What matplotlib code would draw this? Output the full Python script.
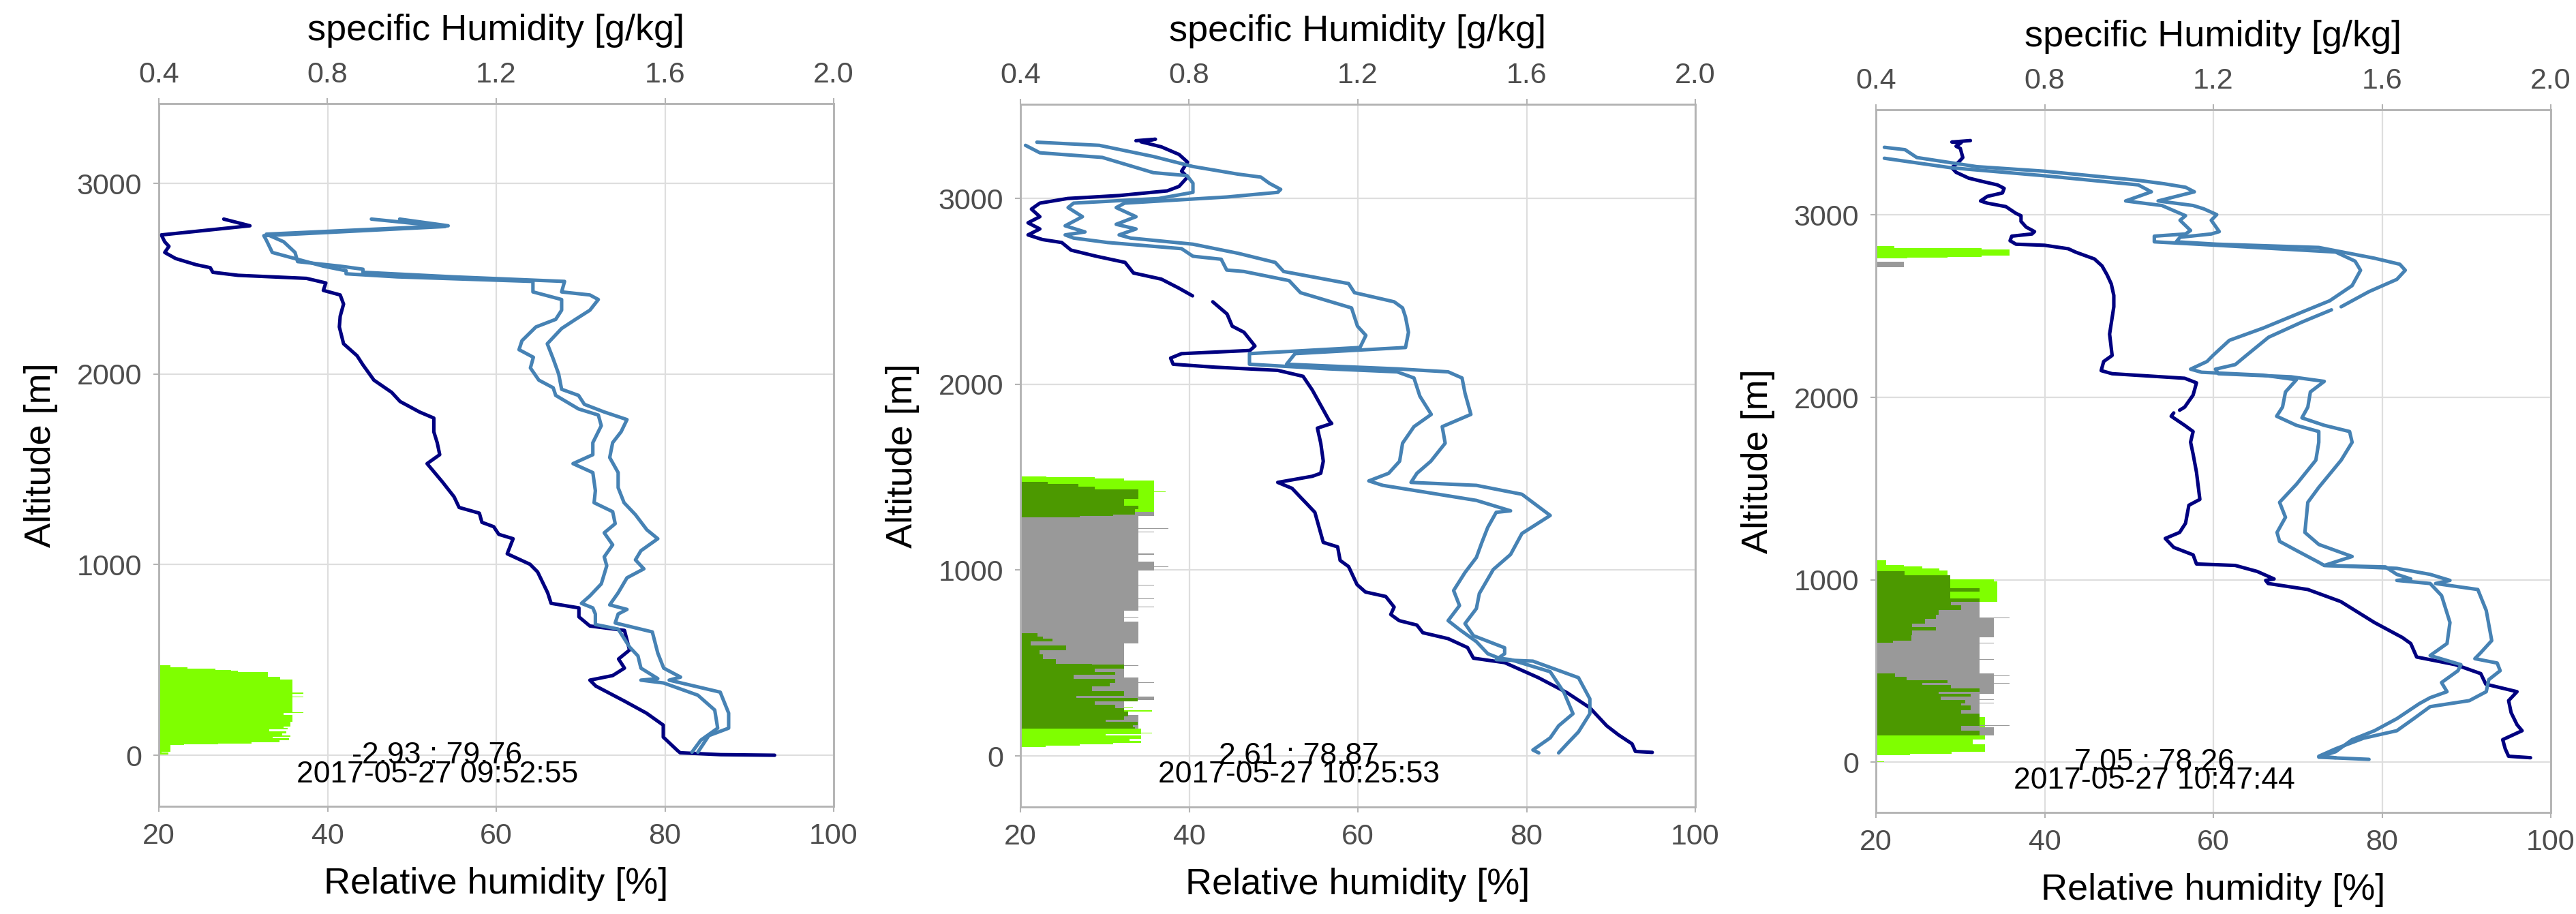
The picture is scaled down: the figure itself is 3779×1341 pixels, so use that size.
import numpy as np
import matplotlib
matplotlib.use("Agg")
import matplotlib.pyplot as plt
from matplotlib.ticker import FormatStrFormatter

plt.rcParams['font.family'] = ['Liberation Sans', 'DejaVu Sans']

nan = np.nan

# ==========================================
# Colours
# ==========================================
NAVY = "#000080"
STEEL = "#4682B4"
LIME = "#7FFF00"
DKGREEN = "#4C9900"
GREY = "#999999"

# ==========================================
# Panel 1  (2017-05-27 09:52:55)
# ==========================================
p1_rh_alt = [2813, 2778, 2730, 2694, 2670, 2638, 2606, 2574, 2558, 2534, 2518, 2502, 2478, 2439, 2415,
             2367, 2303, 2247, 2159, 2096, 2048, 1968, 1904, 1856, 1801, 1769, 1697, 1640, 1577, 1530,
             1435, 1356, 1300, 1270, 1222, 1199, 1159, 1136, 1057, 1002, 962, 852, 797, 773, 726, 678,
             655, 552, 505, 457, 418, 394, 363, 284, 221, 158, 95, 24, 13, 3, 0]
p1_rh = [27.7, 30.8, 20.3, 20.7, 21.2, 20.7, 22.0, 24.4, 26.1, 26.4, 29.4, 37.5, 39.8, 39.5, 41.5,
         41.9, 41.5, 41.4, 41.9, 43.5, 44.2, 45.5, 47.6, 48.6, 50.9, 52.6, 52.6, 53.0, 53.3, 51.8,
         53.6, 55.0, 55.6, 58.0, 58.3, 59.7, 60.3, 62.0, 61.3, 64.0, 64.9, 66.1, 66.5, 69.8, 69.8, 71.1,
         75.2, 75.8, 74.5, 75.2, 73.8, 71.1, 71.8, 75.2, 77.8, 79.8, 79.8, 81.5, 81.8, 86.6, 93.0]

p1_qa_alt = [2813, 2774, 2726, 2702, 2638, 2614, 2566, 2542, 2526, 2510, 2486, 2431, 2391, 2335, 2287,
             2247, 2175, 2128, 2088, 2032, 1968, 1928, 1888, 1817, 1785, 1729, 1640, 1577, 1530, 1483,
             1388, 1325, 1278, 1215, 1167, 1104, 1041, 994, 899, 836, 797, 773, 741, 686, 662, 568,
             521, 457, 402, 394, 379, 315, 237, 142, 79, 16]
p1_qa = [0.904, 1.079, 0.649, 0.655, 0.669, 0.709, 0.790, 0.844, 0.844, 0.965, 1.287, 1.287, 1.355, 1.355, 1.341,
         1.294, 1.261, 1.254, 1.288, 1.281, 1.301, 1.335, 1.341, 1.395, 1.442, 1.449, 1.429, 1.429, 1.382, 1.429,
         1.435, 1.432, 1.476, 1.482, 1.456, 1.476, 1.456, 1.462, 1.449, 1.422, 1.402, 1.429, 1.435, 1.435, 1.489, 1.516,
         1.536, 1.543, 1.583, 1.543, 1.597, 1.678, 1.718, 1.725, 1.685, 1.664]

p1_qb_alt = [2813, 2778, 2734, 2694, 2638, 2590, 2566, 2550, 2534, 2510, 2486, 2431, 2415, 2391, 2335,
             2287, 2239, 2159, 2080, 2000, 1920, 1888, 1841, 1801, 1761, 1697, 1640, 1562, 1483, 1404,
             1325, 1262, 1183, 1136, 1073, 1025, 978, 931, 852, 789, 765, 741, 694, 647, 536, 457,
             410, 394, 331, 221, 142, 103, 16]
p1_qb = [0.971, 1.086, 0.655, 0.696, 0.723, 0.729, 0.830, 0.884, 0.884, 1.099, 1.362, 1.355, 1.422, 1.442, 1.422,
         1.388, 1.355, 1.321, 1.335, 1.348, 1.355, 1.395, 1.409, 1.456, 1.510, 1.496, 1.476, 1.469, 1.489, 1.489,
         1.503, 1.530, 1.557, 1.583, 1.543, 1.530, 1.550, 1.510, 1.489, 1.469, 1.510, 1.489, 1.482, 1.570, 1.583, 1.597,
         1.637, 1.610, 1.731, 1.751, 1.751, 1.704, 1.678]

p1_lime_alt = [5, 13, 19, 55, 58, 62, 67, 73, 80, 90, 97, 105, 115, 125, 135, 144, 150, 174, 210, 222,
               226, 305, 309, 323, 329, 396, 413, 436, 442, 448, 456, 460, 472]
p1_lime_len = [21.1, 20.3, 21.35, 23.0, 27.0, 31.0, 34.3, 34.3, 35.4, 33.5, 35.6, 34.6, 35.1, 33.1, 35.3,
               34.8, 35.6, 35.8, 34.8, 37.1, 35.8, 37.1, 35.8, 37.1, 35.8, 34.4, 32.9, 29.4, 28.6, 26.7,
               23.4, 21.35, 21.35]

# ==========================================
# Panel 2  (2017-05-27 10:25:53)
# ==========================================
p2_rh_alt = [3311, 3319, 3305, 3278, 3237, 3196, 3147, 3115, 3065, 3041, 3016, 3000, 2975, 2943, 2902,
             2869, 2836, 2804, 2779, 2763, 2722, 2689, 2656, 2599, 2566, 2517, 2476, nan, 2444, 2378,
             2313, 2280, 2206, 2182, 2165, 2141, 2108, 2092, 2075, 2043, 1969, 1887, 1805, 1789, 1764,
             1683, 1586, 1521, 1505, 1472, 1440, 1392, 1359, 1311, 1149, 1125, 1052, 1019, 922, 882,
             858, 801, 761, 728, 704, 663, 631, 583, 526, 502, 421, 340, 259, 162, 113, 65, 24, 19]
p2_rh = [33.7, 36.0, 34.3, 36.7, 38.8, 39.8, 39.1, 39.8, 38.8, 37.4, 31.7, 25.6, 22.3, 21.3, 22.3,
         20.9, 22.3, 20.9, 22.6, 24.9, 26.0, 29.0, 32.4, 33.4, 36.7, 38.8, 40.4, nan, 42.8, 44.5,
         45.1, 46.5, 47.8, 47.2, 39.1, 37.8, 38.1, 43.1, 50.5, 53.5, 54.6, 55.6, 56.6, 56.9, 55.2,
         55.6, 55.9, 55.6, 54.6, 50.5, 52.2, 53.2, 53.9, 54.9, 55.9, 57.6, 57.9, 58.9, 59.9, 60.9,
         63.3, 64.3, 63.9, 64.9, 67.0, 67.7, 70.7, 73.0, 73.7, 77.4, 81.4, 84.8, 87.5, 89.5, 90.9, 92.5, 92.9, 94.9]

p2_qa_alt = [3286, 3246, 3221, 3139, 3123, 3082, 3033, 3000, 2975, 2951, 2902, 2853, 2820, 2804, 2787,
             2763, 2730, 2689, 2673, 2615, 2607, 2558, 2493, 2411, 2313, 2263, 2198, 2165, 2108, 2083,
             2067, 2034, 1936, 1838, 1772, 1683, 1586, 1521, 1480, 1456, 1424, 1375, 1319, 1311, 1230,
             1149, 1068, 987, 890, 809, 728, 680, 615, 550, 526, 518, 453, 340, 227, 162, 97, 32, 16]
p2_qa = [0.412, 0.446, 0.594, 0.715, 0.795, 0.809, 0.809, 0.728, 0.526, 0.513, 0.547, 0.506, 0.553, 0.506, 0.526,
         0.607, 0.782, 0.809, 0.876, 0.889, 0.930, 1.037, 1.064, 1.185, 1.199, 1.219, 1.205, 0.943, 0.943, 1.131,
         1.293, 1.333, 1.347, 1.374, 1.333, 1.306, 1.299, 1.273, 1.226, 1.259, 1.347, 1.481, 1.562, 1.528, 1.508,
         1.494, 1.481, 1.454, 1.427, 1.441, 1.414, 1.441, 1.481, 1.508, 1.535, 1.562, 1.656, 1.689, 1.710, 1.676,
         1.656, 1.615, 1.629]

p2_qb_alt = [3303, 3286, 3226, 3172, 3131, 3115, 3082, 3049, 3033, 3008, 2975, 2951, 2902, 2861, 2836,
             2804, 2787, 2754, 2705, 2656, 2607, 2542, 2493, 2444, 2411, 2362, 2280, 2198, 2165, 2108,
             2083, 2067, 2034, 1952, 1838, 1772, 1683, 1586, 1521, 1472, 1456, 1408, 1294, 1197, 1084,
             1003, 874, 793, 712, 647, 582, 550, 518, 510, 421, 307, 227, 129, 65, 16]
p2_qb = [0.439, 0.587, 0.715, 0.809, 0.916, 0.970, 0.990, 1.017, 1.010, 0.889, 0.647, 0.627, 0.674, 0.627, 0.674,
         0.634, 0.661, 0.809, 0.916, 1.004, 1.024, 1.178, 1.192, 1.286, 1.306, 1.313, 1.320, 1.313, 1.051, 1.031,
         1.293, 1.414, 1.447, 1.454, 1.468, 1.400, 1.407, 1.373, 1.340, 1.326, 1.481, 1.589, 1.656, 1.589, 1.562,
         1.521, 1.488, 1.481, 1.454, 1.474, 1.548, 1.548, 1.528, 1.615, 1.723, 1.750, 1.750, 1.723, 1.696, 1.676]

p2_lime_alt = [49, 55, 62, 70, 80, 92, 110, 116, 122, 126, 147, 239, 245, 257, 262, 1291, 1418, 1423,
               1481, 1493, 1499, 1505]
p2_lime_len = [23.0, 27.0, 31.0, 34.3, 32.9, 34.3, 30.1, 34.3, 35.6, 34.3, 32.0, 35.6, 32.0, 33.3, 32.0,
               35.8, 37.2, 35.8, 32.3, 28.8, 23.1, 23.1]

p2_grey_alt = [147, 220, 300, 318, 393, 397, 422, 486, 489, 516, 519, 606, 722, 745, 749, 783, 800, 804,
               845, 849, 918, 922, 998, 1016, 1020, 1047, 1084, 1088, 1204, 1208, 1220, 1224, 1291, 1313]
p2_grey_len = [34.0, 32.3, 35.8, 34.0, 35.8, 34.0, 32.3, 34.0, 32.3, 34.0, 32.3, 34.0, 32.3, 34.0, 32.3,
               34.0, 35.8, 34.0, 35.8, 34.0, 35.8, 34.0, 35.8, 37.5, 35.8, 34.0, 35.8, 34.0, 35.8, 34.0,
               37.5, 34.0, 35.8, 35.8]

p2_green_alt = [147, 153, 165, 184, 196, 214, 239, 257, 275, 294, 312, 324, 349, 373, 392, 416, 435, 453,
                471, 490, 496, 520, 545, 569, 594, 618, 630, 643, 661, 1285, 1290, 1300, 1328, 1346, 1383,
                1436, 1450, 1463, 1475]
p2_green_len = [33.6, 33.3, 33.9, 30.1, 32.3, 32.8, 32.3, 31.2, 28.8, 33.9, 26.6, 32.3, 28.5, 30.6, 31.2,
                26.3, 31.2, 28.8, 32.3, 28.5, 24.2, 22.7, 22.3, 25.4, 21.2, 23.8, 22.7, 22.0, 20.0, 27.0,
                31.0, 33.6, 34.0, 32.3, 34.0, 28.8, 26.9, 23.2, 20.0]

# ==========================================
# Panel 3  (2017-05-27 10:47:44)
# ==========================================
p3_rh_alt = [3408, 3400, 3396, 3377, 3365, 3315, 3290, 3259, 3234, 3202, 3184, 3165, 3146, 3121, 3102,
             3077, 3065, 3046, 3009, 2996, 2965, 2934, 2909, 2896, 2884, 2859, 2840, 2834, 2815, 2796,
             2759, 2721, 2672, 2622, 2559, 2497, 2347, 2230, 2197, 2147, 2130, 2105, 2080, 2013, 1947,
             1930, nan, 1915, 1897, 1847, 1813, 1755, 1689, 1590, 1441, 1409, 1310, 1260, 1227, 1178,
             1137, 1087, 1079, 1046, 1005, 997, 980, 947, 881, 766, 684, 651, 577, 535, 486, 428, 387,
             338, 272, 206, 173, 124, 74, 33, 25]
p3_rh = [31.2, 29.0, 30.1, 29.5, 30.0, 30.3, 29.8, 29.0, 29.5, 31.0, 32.6, 34.4, 35.2, 35.0, 33.2,
         32.4, 33.2, 35.4, 36.6, 37.2, 37.2, 37.8, 38.8, 38.5, 36.1, 35.9, 36.6, 40.0, 42.8, 43.7,
         45.9, 46.8, 47.4, 47.9, 48.2, 48.2, 47.7, 48.0, 47.0, 46.7, 48.0, 56.6, 58.0, 57.6, 56.6,
         56.0, nan, 55.3, 55.0, 56.6, 57.6, 57.3, 57.6, 58.0, 58.4, 57.1, 56.7, 56.0, 54.3, 55.3,
         57.6, 58.0, 62.6, 65.2, 67.2, 66.2, 66.5, 71.2, 75.1, 79.1, 82.4, 83.4, 84.1, 88.7, 91.7, 92.3,
         96.0, 95.0, 95.3, 96.0, 96.6, 94.3, 94.6, 95.0, 97.6]

p3_qa_alt = [3311, 3259, 3215, 3165, 3127, 3077, 3052, 3021, 2996, 2971, 2915, 2896, 2884, 2853, 2834,
             2812, 2797, 2747, 2697, 2613, 2530, 2480, 2380, 2313, 2230, 2197, 2155, 2138, 2122, 2097,
             2030, 1947, 1897, 1847, 1813, 1754, 1656, 1524, 1425, 1343, 1260, 1211, 1161, 1096, 1079,
             1071, 1030, 1005, 997, 980, 914, 766, 651, 585, 535, 502, 437, 387, 354, 321, 239, 173,
             124, 58, 28, 16]
p3_qa = [0.420, 0.578, 0.800, 1.022, 1.053, 0.992, 1.078, 1.109, 1.134, 1.121, 1.146, 1.134, 1.060, 1.060, 1.208,
         1.375, 1.490, 1.536, 1.549, 1.529, 1.476, 1.423, 1.318, 1.238, 1.199, 1.185, 1.146, 1.172, 1.318, 1.397,
         1.371, 1.364, 1.350, 1.397, 1.450, 1.450, 1.443, 1.397, 1.357, 1.371, 1.351, 1.357, 1.397, 1.450, 1.463,
         1.608, 1.635, 1.668, 1.635, 1.714, 1.741, 1.761, 1.754, 1.714, 1.787, 1.780, 1.741, 1.754, 1.714, 1.688,
         1.635, 1.582, 1.529, 1.490, 1.450, 1.569]

p3_qb_alt = [3371, 3358, 3315, 3265, 3240, 3190, 3171, 3152, 3127, 3077, 3052, 3034, 3002, 2971, 2909,
             2896, 2878, 2853, 2840, 2822, 2763, 2730, 2697, 2647, 2580, 2497, nan, 2480, 2413, 2330,
             2230, 2180, 2155, 2130, 2113, 2088, 2030, 1947, 1888, 1847, 1813, 1754, 1656, 1507, 1425,
             1260, 1194, 1128, 1079, 1063, 1030, 997, 980, 947, 832, 667, 601, 568, 544, 502, 453, 387,
             338, 305, 239, 173, 132, 74, 33, 25]
p3_qb = [0.420, 0.469, 0.497, 0.639, 0.800, 1.022, 1.084, 1.134, 1.155, 1.069, 1.152, 1.177, 1.208, 1.195, 1.214,
         1.195, 1.121, 1.112, 1.208, 1.450, 1.582, 1.642, 1.655, 1.635, 1.569, 1.503, nan, 1.480, 1.410, 1.331,
         1.278, 1.252, 1.205, 1.212, 1.384, 1.463, 1.430, 1.424, 1.410, 1.463, 1.523, 1.529, 1.503, 1.450, 1.424,
         1.417, 1.450, 1.529, 1.463, 1.635, 1.714, 1.761, 1.727, 1.827, 1.847, 1.860, 1.834, 1.820, 1.873, 1.880,
         1.853, 1.847, 1.807, 1.714, 1.675, 1.635, 1.556, 1.490, 1.450, 1.490]

p3_lime_alt = [0, 6, 40, 48, 56, 100, 125, 149, 193, 249, 880, 990, 1002, 1052, 1064, 1075, 1081, 1108,
               2764, 2767, 2771, 2777, 2812, 2817, 2820, 2829]
p3_lime_len = [21.0, 20.0, 24.0, 29.0, 32.9, 31.5, 32.9, 32.0, 32.9, 32.0, 34.4, 34.0, 28.5, 27.5, 25.5,
               23.3, 21.2, 20.0, 23.7, 28.5, 32.5, 35.8, 32.5, 28.5, 22.2, 22.2]

p3_grey_alt = [149, 193, 200, 204, 324, 328, 340, 344, 374, 430, 434, 471, 475, 486, 562, 566, 652, 656,
               685, 789, 793, 880, 2715, 2743]
p3_grey_len = [34.0, 32.3, 35.8, 32.3, 34.0, 32.3, 34.0, 32.3, 34.0, 35.8, 34.0, 35.8, 34.0, 32.3, 34.0,
               32.3, 34.0, 32.3, 34.0, 35.8, 32.3, 20.0, 23.3, 23.3]

p3_green_alt = [149, 174, 199, 268, 286, 311, 324, 342, 361, 374, 386, 405, 423, 436, 448, 467, 486, 654,
                666, 697, 722, 741, 760, 785, 809, 834, 859, 878, 899, 934, 956, 1027, 1046]
p3_green_len = [32.3, 30.1, 32.3, 30.1, 31.2, 30.1, 30.6, 27.7, 31.2, 27.4, 32.3, 28.9, 25.5, 28.5, 23.6,
                22.3, 20.0, 22.0, 24.2, 24.3, 27.1, 24.3, 25.8, 27.1, 27.4, 30.1, 28.9, 32.3, 28.8, 32.3,
                28.8, 23.4, 20.0]

# text labels
labels_top = ["-2.93 : 79.76", "2.61 : 78.87", "7.05 : 78.26"]
labels_time = ["2017-05-27 09:52:55", "2017-05-27 10:25:53", "2017-05-27 10:47:44"]

# axis limits / positions (pixels in 3779x1341 figure: left, bottom edge)
ylims = [(-268, 3419), (-275, 3507), (-275, 3577)]
panel_px = [(233, 1183), (1497, 1184), (2752, 1192)]
PW, PH = 990, 1031
FW, FH = 3779, 1341

panels = [
    dict(rh=(p1_rh_alt, p1_rh), qa=(p1_qa_alt, p1_qa), qb=(p1_qb_alt, p1_qb),
         bars=[(p1_lime_alt, p1_lime_len, LIME)]),
    dict(rh=(p2_rh_alt, p2_rh), qa=(p2_qa_alt, p2_qa), qb=(p2_qb_alt, p2_qb),
         bars=[(p2_lime_alt, p2_lime_len, LIME), (p2_grey_alt, p2_grey_len, GREY),
               (p2_green_alt, p2_green_len, DKGREEN)]),
    dict(rh=(p3_rh_alt, p3_rh), qa=(p3_qa_alt, p3_qa), qb=(p3_qb_alt, p3_qb),
         bars=[(p3_lime_alt, p3_lime_len, LIME), (p3_grey_alt, p3_grey_len, GREY),
               (p3_green_alt, p3_green_len, DKGREEN)]),
]


def style_axis(a):
    for s in a.spines.values():
        s.set_color("#B3B3B3")
        s.set_linewidth(1.8)


fig = plt.figure(figsize=(FW / 100, FH / 100), dpi=100)

for i, p in enumerate(panels):
    left, bottom = panel_px[i]
    ax = fig.add_axes([left / FW, (FH - bottom) / FH, PW / FW, PH / FH])
    ax.set_xlim(20, 100)
    ax.set_ylim(*ylims[i])
    ax.set_xticks([20, 40, 60, 80, 100])
    ax.set_yticks([0, 1000, 2000, 3000])
    ax.grid(True, color="#DEDEDE", lw=1.6)
    ax.set_axisbelow(True)
    style_axis(ax)
    ax.tick_params(colors="#B3B3B3", labelcolor="#4D4D4D", labelsize=31,
                   length=6, width=1.5)
    ax.tick_params(axis="x", pad=11)
    ax.tick_params(axis="y", pad=12)

    # stacked profile bars
    for alt, length, col in p["bars"]:
        ax.fill_betweenx(alt, 20, length, step="post", color=col, lw=0, zorder=2)

    # relative humidity
    ax.plot(p["rh"][1], p["rh"][0], color=NAVY, lw=3.7, zorder=3,
            solid_joinstyle="round", solid_capstyle="round")

    ax.text(53, 0, labels_top[i], ha="center", va="center", fontsize=32, zorder=5)
    ax.text(53, -100, labels_time[i], ha="center", va="center", fontsize=32, zorder=5)

    ax.set_xlabel("Relative humidity [%]", fontsize=39)
    ax.xaxis.set_label_coords(0.5, -0.1106)
    ax.xaxis.label.set_va("center")
    ax.set_ylabel("Altitude [m]", fontsize=39)
    ax.yaxis.set_label_coords(-0.1747, 0.5)
    ax.yaxis.label.set_va("center")

    # specific humidity on secondary top axis
    ax2 = ax.twiny()
    ax2.set_xlim(0.4, 2.0)
    ax2.set_xticks([0.4, 0.8, 1.2, 1.6, 2.0])
    ax2.xaxis.set_major_formatter(FormatStrFormatter("%.1f"))
    style_axis(ax2)
    ax2.tick_params(colors="#B3B3B3", labelcolor="#4D4D4D", labelsize=31,
                    length=6, width=1.5, pad=10)
    ax2.plot(p["qa"][1], p["qa"][0], color=STEEL, lw=3.7,
             solid_joinstyle="round", solid_capstyle="round")
    ax2.plot(p["qb"][1], p["qb"][0], color=STEEL, lw=3.7,
             solid_joinstyle="round", solid_capstyle="round")
    ax2.set_xlabel("specific Humidity [g/kg]", fontsize=39)
    ax2.xaxis.set_label_coords(0.5, 1.104)
    ax2.xaxis.label.set_va("center")

fig.savefig("out.png", dpi=100)
